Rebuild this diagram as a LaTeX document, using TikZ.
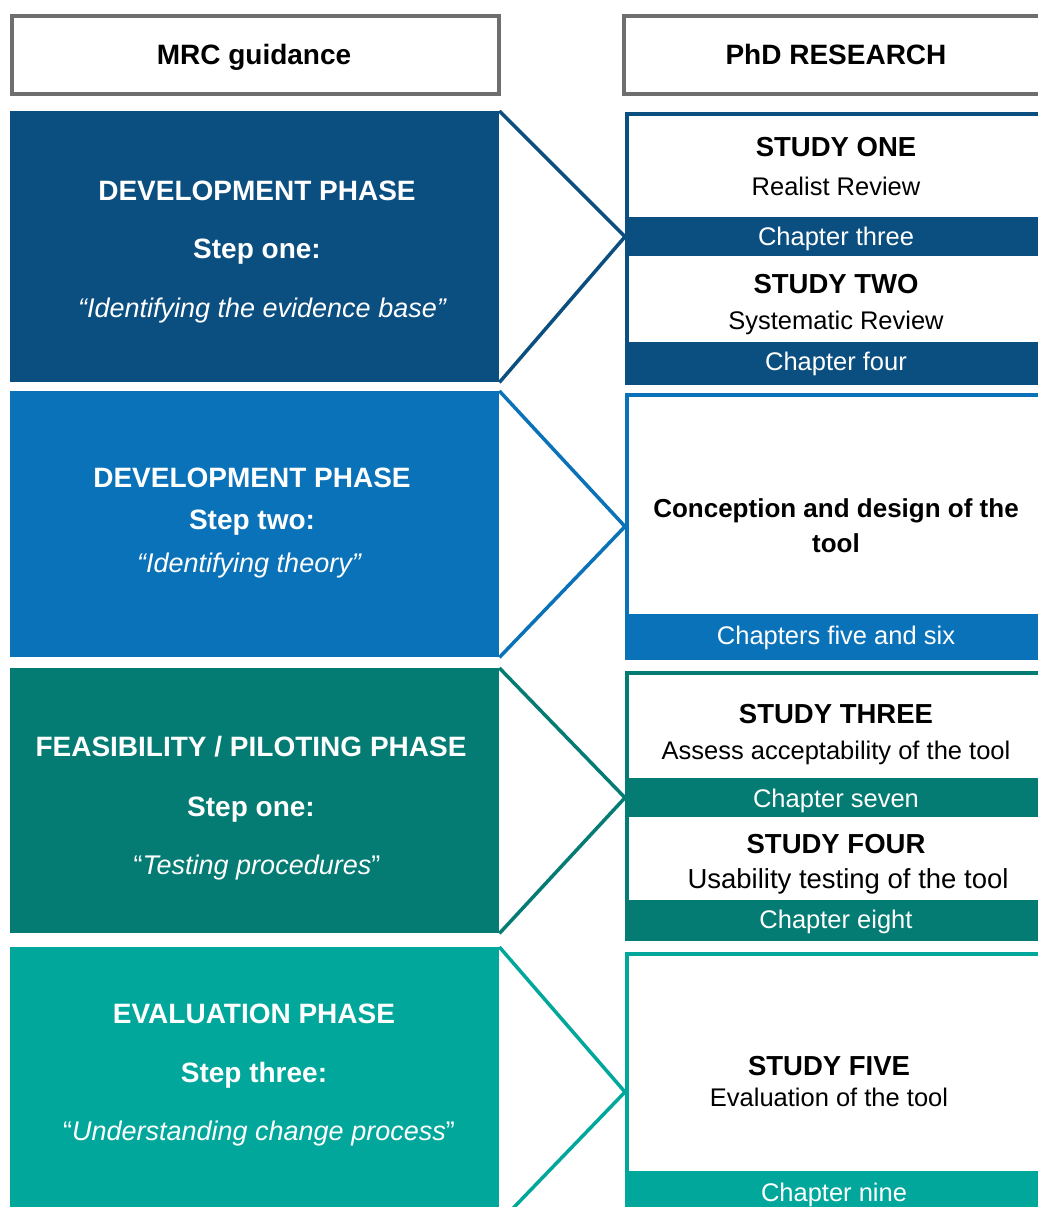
\documentclass[tikz,border=0pt]{standalone}
\usepackage{fontspec}
\setmainfont{Liberation Sans}
\definecolor{cA}{HTML}{0B4E80}
\definecolor{cB}{HTML}{0A72B8}
\definecolor{cC}{HTML}{047B73}
\definecolor{cD}{HTML}{02A79C}
\definecolor{hgray}{HTML}{6E6E6E}
\begin{document}
\begin{tikzpicture}[x=1pt,y=-1pt,
  lblock/.style={rectangle, inner sep=0pt, anchor=north west, minimum width=489pt, fill=#1},
  rbox/.style={rectangle, inner sep=0pt, anchor=north west, minimum width=422pt, draw=#1, line width=4pt, fill=white},
  band/.style={rectangle, inner sep=0pt, anchor=north west, minimum width=422pt, fill=#1},
  hbox/.style={rectangle, inner sep=0pt, anchor=north west, minimum height=78pt, draw=hgray, line width=4pt, fill=white},
  htxt/.style={anchor=base, inner sep=0pt, font=\fontsize{28}{30}\selectfont\bfseries},
  ltxt/.style={anchor=base, inner sep=0pt, text=white, font=\fontsize{28}{30}\selectfont\bfseries},
  lq/.style={anchor=base, inner sep=0pt, text=white, font=\fontsize{27}{30}\selectfont},
  stxt/.style={anchor=base, inner sep=0pt, font=\fontsize{27.5}{30}\selectfont\bfseries},
  rtxt/.style={anchor=base, inner sep=0pt, font=\fontsize{25.5}{30}\selectfont},
  ctxt/.style={anchor=base, inner sep=0pt, text=white, font=\fontsize{25.5}{30}\selectfont},
  chev/.style={draw=#1, line width=3.5pt, line join=miter}]
\fill[white] (0,0) rectangle (1038,1207);
\useasboundingbox (0,0) rectangle (1038,1207);
\clip (0,0) rectangle (1038,1207);

% headers
\node[hbox, minimum width=487pt] (hL) at (10,14) {};
\node[hbox, minimum width=425pt] (hR) at (622,14) {};
\node[htxt] (hLt) at (254,65) {MRC guidance};
\node[htxt] (hRt) at (836,65) {PhD RESEARCH};

% left blocks
\node[lblock=cA, minimum height=271pt] (L1) at (10,111) {};
\node[lblock=cB, minimum height=266pt] (L2) at (10,391) {};
\node[lblock=cC, minimum height=265pt] (L3) at (10,668) {};
\node[lblock=cD, minimum height=275pt] (L4) at (10,947) {};

% right boxes
\node[rbox=cA, minimum height=269pt] (R1) at (625,112) {};
\node[rbox=cB, minimum height=263pt] (R2) at (625,393) {};
\node[rbox=cC, minimum height=266pt] (R3) at (625,671) {};
\node[rbox=cD, minimum height=270pt] (R4) at (625,952) {};

\node[band=cA, minimum height=39pt] (B1) at (625,217) {};
\node[band=cA, minimum height=41pt] (B2) at (625,342) {};
\node[band=cB, minimum height=43pt] (B3) at (625,614) {};
\node[band=cC, minimum height=39pt] (B4) at (625,778) {};
\node[band=cC, minimum height=39pt] (B5) at (625,900) {};
\node[band=cD, minimum height=40pt] (B6) at (625,1171) {};

% chevrons
\draw[chev=cA] (L1.north east) -- (B1.west) -- (L1.south east);
\draw[chev=cB] (L2.north east) -- (R2.west) -- (L2.south east);
\draw[chev=cC] (L3.north east) -- (B4.west) -- (L3.south east);
\draw[chev=cD] (L4.north east) -- ([yshift=-3pt]R4.west) -- (L4.south east);

% left texts
\node[ltxt] (t11) at (257,200) {DEVELOPMENT PHASE};
\node[ltxt] (t12) at (257,258) {Step one:};
\node[lq]   (t13) at (262,317) {\itshape “Identifying the evidence base”};

\node[ltxt] (t21) at (252,487) {DEVELOPMENT PHASE};
\node[ltxt] (t22) at (252,529) {Step two:};
\node[lq]   (t23) at (249,572) {\itshape “Identifying theory”};

\node[ltxt] (t31) at (251,756) {FEASIBILITY / PILOTING PHASE};
\node[ltxt] (t32) at (251,816) {Step one:};
\node[lq]   (t33) at (257,874) {“\textit{Testing procedures}”};

\node[ltxt] (t41) at (254,1023) {EVALUATION PHASE};
\node[ltxt] (t42) at (254,1082) {Step three:};
\node[lq]   (t43) at (259,1140) {“\textit{Understanding change process}”};

% right texts
\node[stxt] (s1) at (836,156) {STUDY ONE};
\node[rtxt] (s1b) at (836,195) {Realist Review};
\node[ctxt] (c1) at (836,245) {Chapter three};
\node[stxt] (s2) at (836,293) {STUDY TWO};
\node[rtxt] (s2b) at (836,329) {Systematic Review};
\node[ctxt] (c2) at (836,370) {Chapter four};

\node[stxt, font=\fontsize{26}{30}\selectfont\bfseries] (s3) at (836,517) {Conception and design of the};
\node[stxt, font=\fontsize{26}{30}\selectfont\bfseries] (s3b) at (836,552) {tool};
\node[ctxt] (c3) at (836,644) {Chapters five and six};

\node[stxt] (s4) at (836,723) {STUDY THREE};
\node[rtxt] (s4b) at (836,759) {Assess acceptability of the tool};
\node[ctxt] (c4) at (836,807) {Chapter seven};
\node[stxt] (s5) at (836,853) {STUDY FOUR};
\node[rtxt, font=\fontsize{27.5}{30}\selectfont] (s5b) at (848,888) {Usability testing of the tool};
\node[ctxt] (c5) at (836,928) {Chapter eight};

\node[stxt] (s6) at (829,1075) {STUDY FIVE};
\node[rtxt] (s6b) at (829,1106) {Evaluation of the tool};
\node[ctxt] (c6) at (834,1201) {Chapter nine};
\end{tikzpicture}
\end{document}
